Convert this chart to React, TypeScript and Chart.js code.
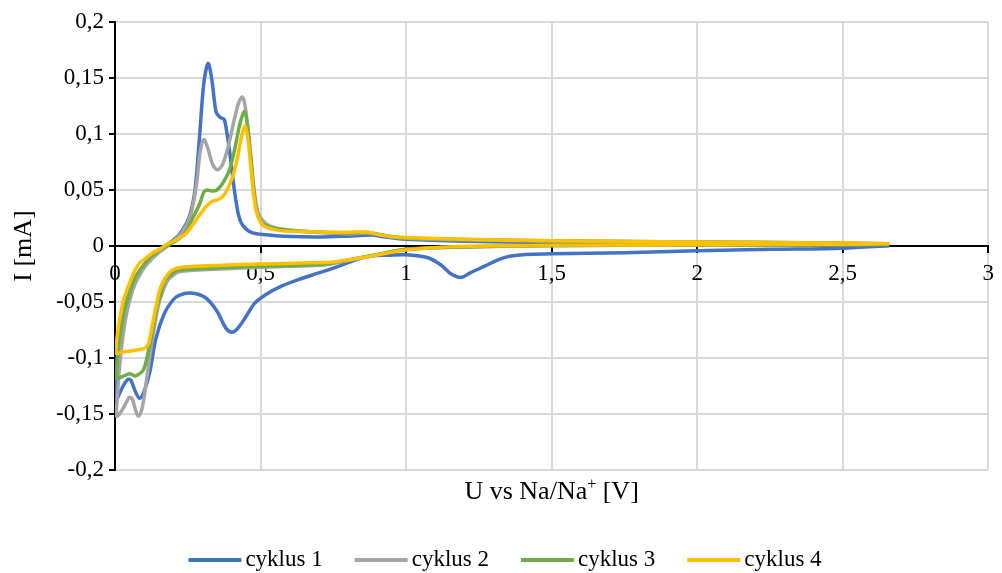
import React, { useEffect, useRef } from "react";
import { Chart, registerables } from "chart.js";

Chart.register(...registerables);

const FONT = "'Liberation Serif', 'Times New Roman', serif";

const seriesLabels = ["cyklus 1", "cyklus 2", "cyklus 3", "cyklus 4"];
const seriesColors = ["#4472C4", "#A5A5A5", "#70AD47", "#FFC000"];

// Each cycle: cathodic sweep from 2.66 V down to 0 V, then anodic sweep back up.
const cyklus1U = [
  2.66, 2.5, 2.25, 2.0, 1.75, 1.5, 1.41, 1.36, 1.32, 1.27, 1.22, 1.19, 1.155, 1.12, 1.075, 1.0, 0.94, 0.88, 0.82, 0.77,
  0.7, 0.63, 0.57, 0.52, 0.48, 0.45, 0.42, 0.4, 0.38, 0.35, 0.31, 0.26, 0.22, 0.2, 0.17, 0.14, 0.12, 0.1, 0.085, 0.07,
  0.055, 0.045, 0.03, 0.015, 0.005,
  0.006, 0.015, 0.03, 0.05, 0.07, 0.1, 0.13, 0.16, 0.19, 0.22, 0.245, 0.26, 0.275, 0.29, 0.305, 0.32, 0.333, 0.347,
  0.36, 0.375, 0.385, 0.395, 0.41, 0.425, 0.44, 0.47, 0.52, 0.58, 0.7, 0.8, 0.88, 0.93, 1.0, 1.2, 1.5, 2.0, 2.5, 2.66,
];
const cyklus1I = [
  0.0003, -0.0019, -0.003, -0.0043, -0.006, -0.007, -0.0075, -0.009, -0.012, -0.018, -0.024, -0.028, -0.025, -0.017,
  -0.0105, -0.0078, -0.0082, -0.009, -0.013, -0.018, -0.024, -0.03, -0.036, -0.043, -0.051, -0.063, -0.074, -0.077,
  -0.073, -0.058, -0.046, -0.042, -0.044, -0.048, -0.06, -0.083, -0.112, -0.13, -0.136, -0.13, -0.12, -0.119, -0.124,
  -0.132, -0.137,
  -0.105, -0.08, -0.055, -0.038, -0.028, -0.018, -0.01, -0.003, 0.003, 0.01, 0.02, 0.03, 0.05, 0.096, 0.145, 0.163,
  0.148, 0.12, 0.115, 0.113, 0.1, 0.082, 0.05, 0.027, 0.018, 0.012, 0.01, 0.0087, 0.008, 0.0088, 0.0098, 0.008, 0.006,
  0.0042, 0.003, 0.0018, 0.0012, 0.0005,
];

const cyklus2U = [
  2.66, 2.5, 2.0, 1.5, 1.2, 1.0, 0.9, 0.8, 0.72, 0.6, 0.5, 0.4, 0.32, 0.25, 0.22, 0.2, 0.18, 0.165, 0.153, 0.14, 0.13,
  0.115, 0.1, 0.09, 0.08, 0.07, 0.06, 0.05, 0.04, 0.028, 0.015, 0.005,
  0.008, 0.015, 0.025, 0.04, 0.06, 0.08, 0.11, 0.15, 0.19, 0.23, 0.26, 0.28, 0.293, 0.305, 0.318, 0.335, 0.352, 0.37,
  0.39, 0.41, 0.425, 0.437, 0.447, 0.46, 0.477, 0.494, 0.53, 0.6, 0.7, 0.8, 0.86, 0.9, 0.95, 1.0, 1.2, 1.5, 2.0, 2.5,
  2.66,
];
const cyklus2I = [
  0.0015, 0.0012, 0.0008, 0.0003, -0.001, -0.003, -0.008, -0.013, -0.017, -0.018, -0.019, -0.02, -0.021, -0.022, -0.023,
  -0.026, -0.031, -0.04, -0.049, -0.065, -0.08, -0.107, -0.135, -0.148, -0.152, -0.146, -0.137, -0.135, -0.139, -0.145,
  -0.15, -0.152,
  -0.135, -0.11, -0.085, -0.06, -0.04, -0.028, -0.016, -0.006, 0.002, 0.012, 0.028, 0.055, 0.085, 0.095, 0.088, 0.073,
  0.068, 0.073, 0.09, 0.113, 0.128, 0.133, 0.125, 0.096, 0.052, 0.028, 0.018, 0.014, 0.012, 0.011, 0.0115, 0.0105,
  0.008, 0.007, 0.0055, 0.0045, 0.0035, 0.0025, 0.002,
];

const cyklus3U = [
  2.66, 2.5, 2.0, 1.5, 1.2, 1.0, 0.9, 0.8, 0.72, 0.6, 0.5, 0.4, 0.3, 0.24, 0.21, 0.19, 0.17, 0.155, 0.142, 0.13, 0.119,
  0.108, 0.097, 0.085, 0.07, 0.06, 0.05, 0.03, 0.005,
  0.006, 0.012, 0.02, 0.035, 0.05, 0.07, 0.11, 0.15, 0.2, 0.24, 0.267, 0.29, 0.305, 0.315, 0.335, 0.35, 0.37, 0.392,
  0.41, 0.43, 0.445, 0.455, 0.466, 0.483, 0.5, 0.53, 0.6, 0.7, 0.8, 0.86, 0.9, 0.95, 1.0, 1.2, 1.5, 2.0, 2.5, 2.66,
];
const cyklus3I = [
  0.0015, 0.0012, 0.0008, 0.0004, -0.0008, -0.003, -0.0075, -0.0125, -0.016, -0.0175, -0.018, -0.019, -0.02, -0.021,
  -0.022, -0.026, -0.031, -0.045, -0.055, -0.075, -0.088, -0.102, -0.111, -0.114, -0.116, -0.115, -0.114, -0.116,
  -0.118,
  -0.11, -0.09, -0.075, -0.055, -0.042, -0.028, -0.013, -0.004, 0.003, 0.011, 0.025, 0.037, 0.048, 0.05, 0.049, 0.05,
  0.056, 0.067, 0.085, 0.11, 0.12, 0.108, 0.081, 0.037, 0.022, 0.017, 0.014, 0.0125, 0.0115, 0.012, 0.0108, 0.0085,
  0.0072, 0.0058, 0.0046, 0.0036, 0.0026, 0.002,
];

const cyklus4U = [
  2.66, 2.5, 2.0, 1.5, 1.2, 1.0, 0.88, 0.8, 0.74, 0.665, 0.55, 0.44, 0.35, 0.28, 0.23, 0.2, 0.182, 0.165, 0.153, 0.14,
  0.131, 0.12, 0.114, 0.1, 0.07, 0.05, 0.025, 0.005,
  0.004, 0.01, 0.017, 0.028, 0.04, 0.055, 0.068, 0.085, 0.108, 0.13, 0.153, 0.175, 0.2, 0.22, 0.244, 0.267, 0.3, 0.32,
  0.335, 0.35, 0.369, 0.385, 0.403, 0.42, 0.435, 0.447, 0.457, 0.466, 0.483, 0.506, 0.54, 0.574, 0.65, 0.75, 0.83,
  0.87, 0.92, 1.0, 1.2, 1.5, 2.0, 2.5, 2.66,
];
const cyklus4I = [
  0.002, 0.0016, 0.0011, 0.0006, -0.0002, -0.0035, -0.009, -0.0125, -0.0145, -0.015, -0.0158, -0.0165, -0.0175, -0.018,
  -0.019, -0.021, -0.025, -0.032, -0.04, -0.055, -0.067, -0.082, -0.088, -0.0915, -0.093, -0.094, -0.0945, -0.096,
  -0.09, -0.075, -0.064, -0.05, -0.04, -0.03, -0.022, -0.015, -0.0105, -0.006, -0.003, 0.001, 0.004, 0.007, 0.011,
  0.019, 0.031, 0.037, 0.04, 0.041, 0.044, 0.05, 0.061, 0.078, 0.098, 0.107, 0.095, 0.072, 0.034, 0.019, 0.015, 0.0135,
  0.0128, 0.0122, 0.0125, 0.0122, 0.0095, 0.0075, 0.006, 0.0046, 0.0036, 0.0026, 0.002,
];

const cyclesU = [cyklus1U, cyklus2U, cyklus3U, cyklus4U];
const cyclesI = [cyklus1I, cyklus2I, cyklus3I, cyklus4I];

const xAxisTitle = "U vs Na/Na";
const xAxisTitleSup = "+";
const xAxisTitleTail = " [V]";
const yAxisTitle = "I [mA]";

const fmt = (v: number) => String(Number(Number(v).toFixed(2))).replace(".", ",");
const isZero = (v: number) => Math.abs(v) < 1e-9;

// Draws the x-axis caption below the plot and the line legend at the bottom.
const captionAndLegend = {
  id: "captionAndLegend",
  afterDraw(chart: any) {
    const { ctx, chartArea, width } = chart;
    ctx.save();
    ctx.fillStyle = "#000";
    ctx.textBaseline = "middle";
    ctx.textAlign = "left";

    // axis caption with superscript
    const big = `26px ${FONT}`;
    const small = `16px ${FONT}`;
    ctx.font = big;
    const w1 = ctx.measureText(xAxisTitle).width;
    const w3 = ctx.measureText(xAxisTitleTail).width;
    ctx.font = small;
    const w2 = ctx.measureText(xAxisTitleSup).width;
    let x = (chartArea.left + chartArea.right) / 2 - (w1 + w2 + w3) / 2;
    const ty = chartArea.bottom + 22;
    ctx.font = big;
    ctx.fillText(xAxisTitle, x, ty);
    x += w1;
    ctx.font = small;
    ctx.fillText(xAxisTitleSup, x, ty - 7);
    x += w2;
    ctx.font = big;
    ctx.fillText(xAxisTitleTail, x, ty);

    // legend
    const lineW = 53;
    const gap = 4;
    const itemGap = 32;
    const ly = 560;
    ctx.font = `23px ${FONT}`;
    const textW = seriesLabels.map((t) => ctx.measureText(t).width);
    const total = textW.reduce((s, w) => s + lineW + gap + w, 0) + itemGap * (seriesLabels.length - 1);
    let lx = width / 2 - total / 2 + 4;
    seriesLabels.forEach((label, i) => {
      ctx.strokeStyle = seriesColors[i];
      ctx.lineWidth = 4;
      ctx.lineCap = "butt";
      ctx.beginPath();
      ctx.moveTo(lx, ly);
      ctx.lineTo(lx + lineW, ly);
      ctx.stroke();
      ctx.fillStyle = "#000";
      ctx.fillText(label, lx + lineW + gap, ly);
      lx += lineW + gap + textW[i] + itemGap;
    });
    ctx.restore();
  },
};

export default function App() {
  const canvasRef = useRef<HTMLCanvasElement | null>(null);

  useEffect(() => {
    if (!canvasRef.current) return;
    const datasets = seriesLabels.map((label, i) => ({
      label,
      data: cyclesU[i].map((u, k) => ({ x: u, y: cyclesI[i][k] })),
      borderColor: seriesColors[i],
      backgroundColor: seriesColors[i],
      borderWidth: 3.5,
      pointRadius: 0,
      showLine: true,
      fill: false,
      tension: 0.3,
      order: seriesLabels.length - i,
    }));

    const chart = new Chart(canvasRef.current, {
      type: "scatter",
      data: { datasets },
      options: {
        animation: false,
        responsive: true,
        maintainAspectRatio: false,
        layout: { padding: { top: 22, right: 7, bottom: 103, left: 0 } },
        plugins: {
          legend: { display: false },
          tooltip: { enabled: false },
        },
        scales: {
          x: {
            type: "linear",
            min: 0,
            max: 3,
            position: { y: 0 },
            ticks: {
              stepSize: 0.5,
              callback: (v: any) => fmt(v),
              font: { family: FONT, size: 23 },
              color: "#000",
              padding: 8,
              maxRotation: 0,
              autoSkip: false,
            },
            grid: {
              color: (c: any) => (c.tick && isZero(c.tick.value) ? "rgba(0,0,0,0)" : "#d9d9d9"),
              lineWidth: 2,
              tickColor: "#000",
              tickLength: 6,
              tickWidth: 2,
            },
            border: { color: "#000", width: 2 },
          },
          y: {
            type: "linear",
            min: -0.2,
            max: 0.2,
            position: "left",
            ticks: {
              stepSize: 0.05,
              callback: (v: any) => fmt(v),
              font: { family: FONT, size: 23 },
              color: "#000",
              padding: 5,
            },
            grid: {
              color: (c: any) => (c.tick && isZero(c.tick.value) ? "rgba(0,0,0,0)" : "#d9d9d9"),
              lineWidth: 2,
              tickColor: "#000",
              tickLength: 6,
              tickWidth: 2,
            },
            border: { color: "#000", width: 2 },
            title: {
              display: true,
              text: yAxisTitle,
              font: { family: FONT, size: 26 },
              color: "#000",
              padding: { top: 9, bottom: 0 },
            },
            afterFit: (scale: any) => {
              scale.width = 115;
            },
          },
        },
      },
      plugins: [captionAndLegend],
    });
    return () => chart.destroy();
  }, []);

  return (
    <div style={{ position: "absolute", left: 0, top: 0, width: 1002, height: 573, background: "#fff" }}>
      <canvas ref={canvasRef} />
    </div>
  );
}
